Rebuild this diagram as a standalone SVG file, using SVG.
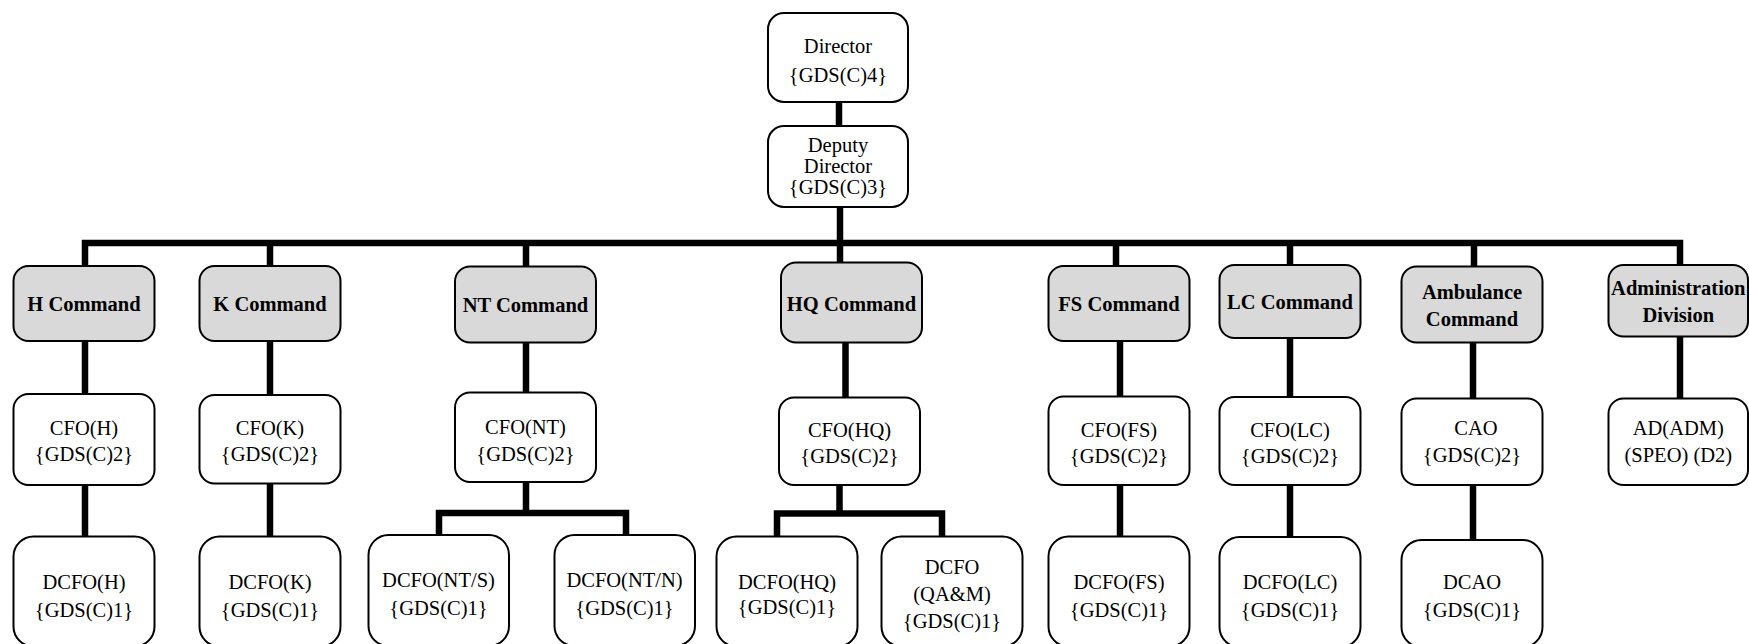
<svg xmlns="http://www.w3.org/2000/svg" width="1749" height="644" viewBox="0 0 1749 644">
<style>
.b{fill:#ffffff;stroke:#000;stroke-width:2}
.g{fill:#d9d9d9;stroke:#000;stroke-width:2}
.t{font-family:"Liberation Serif","Times New Roman",serif;font-size:20.5px;fill:#000;text-anchor:middle}
.tb{font-family:"Liberation Serif","Times New Roman",serif;font-size:20.5px;font-weight:bold;fill:#000;text-anchor:middle}
.c{fill:none;stroke:#000;stroke-width:6.5;stroke-linejoin:miter;stroke-linecap:butt}
</style>
<rect width="1749" height="644" fill="#fff"/>
<g id="connectors">
<path class="c" d="M839,101 V127"/>
<path class="c" d="M840,206 V263"/>
<path class="c" d="M85,267 V243 H1680 V266"/>
<path class="c" d="M270,243 V267"/>
<path class="c" d="M526,243 V267"/>
<path class="c" d="M1116,243 V267"/>
<path class="c" d="M1290,243 V266"/>
<path class="c" d="M1474,243 V267"/>
<path class="c" d="M85,341 V395"/>
<path class="c" d="M85,485 V537"/>
<path class="c" d="M270,341 V396"/>
<path class="c" d="M270,483 V537"/>
<path class="c" d="M526,342 V393"/>
<path class="c" d="M526,482 V513 M439,536 V513 H626 V536"/>
<path class="c" d="M845.5,342 V398"/>
<path class="c" d="M839.5,485 V513.5 M777,537 V513.5 H942 V537"/>
<path class="c" d="M1120,341 V397"/>
<path class="c" d="M1120,485 V537"/>
<path class="c" d="M1290,338 V397"/>
<path class="c" d="M1290,485 V537"/>
<path class="c" d="M1473,342 V399"/>
<path class="c" d="M1473,485 V540"/>
<path class="c" d="M1680,336 V399"/>
</g>
<g id="director"><rect class="b" x="768" y="13" width="140" height="89" rx="16"/><text class="t" x="838" y="53">Director</text><text class="t" x="838" y="82">{GDS(C)4}</text></g>
<g id="deputy"><rect class="b" x="768" y="126" width="140" height="81" rx="16"/><text class="t" x="838" y="152">Deputy</text><text class="t" x="838" y="173">Director</text><text class="t" x="838" y="194">{GDS(C)3}</text></g>

<g id="h-command"><rect class="g" x="13.5" y="266" width="141" height="75" rx="15"/><text class="tb" x="84" y="311">H Command</text></g>
<g id="k-command"><rect class="g" x="199.5" y="266" width="141" height="75" rx="15"/><text class="tb" x="270" y="311">K Command</text></g>
<g id="nt-command"><rect class="g" x="455" y="266.5" width="141" height="76" rx="15"/><text class="tb" x="525.5" y="311.5">NT Command</text></g>
<g id="hq-command"><rect class="g" x="781" y="262.5" width="141" height="80" rx="15"/><text class="tb" x="851.5" y="310.5">HQ Command</text></g>
<g id="fs-command"><rect class="g" x="1048.5" y="266" width="141" height="75" rx="15"/><text class="tb" x="1119" y="311">FS Command</text></g>
<g id="lc-command"><rect class="g" x="1219.5" y="265" width="141" height="73" rx="15"/><text class="tb" x="1290" y="309">LC Command</text></g>
<g id="ambulance-command"><rect class="g" x="1401.5" y="266.5" width="141" height="76" rx="15"/><text class="tb" x="1472" y="299">Ambulance</text><text class="tb" x="1472" y="325.5">Command</text></g>
<g id="administration-division"><rect class="g" x="1608.5" y="265" width="139.5" height="71.5" rx="15"/><text class="tb" x="1678.3" y="295">Administration</text><text class="tb" x="1678.3" y="321.5">Division</text></g>

<g id="cfo-h"><rect class="b" x="13.5" y="394" width="141" height="91" rx="15"/><text class="t" x="84" y="435">CFO(H)</text><text class="t" x="84" y="461">{GDS(C)2}</text></g>
<g id="cfo-k"><rect class="b" x="199.5" y="395" width="141" height="88.5" rx="15"/><text class="t" x="270" y="435">CFO(K)</text><text class="t" x="270" y="461">{GDS(C)2}</text></g>
<g id="cfo-nt"><rect class="b" x="455" y="392.5" width="141" height="89.5" rx="15"/><text class="t" x="525.5" y="433.5">CFO(NT)</text><text class="t" x="525.5" y="460.5">{GDS(C)2}</text></g>
<g id="cfo-hq"><rect class="b" x="779" y="397.5" width="141" height="87.5" rx="15"/><text class="t" x="849.5" y="436.5">CFO(HQ)</text><text class="t" x="849.5" y="463">{GDS(C)2}</text></g>
<g id="cfo-fs"><rect class="b" x="1048.5" y="396.5" width="141" height="88.5" rx="15"/><text class="t" x="1119" y="436.5">CFO(FS)</text><text class="t" x="1119" y="463">{GDS(C)2}</text></g>
<g id="cfo-lc"><rect class="b" x="1219.5" y="397" width="141" height="88" rx="15"/><text class="t" x="1290" y="436.5">CFO(LC)</text><text class="t" x="1290" y="463">{GDS(C)2}</text></g>
<g id="cao"><rect class="b" x="1401.5" y="398.5" width="141" height="86.5" rx="15"/><text class="t" x="1476" y="435">CAO</text><text class="t" x="1472" y="461.5">{GDS(C)2}</text></g>
<g id="ad-adm"><rect class="b" x="1608.5" y="398.5" width="139.5" height="86.5" rx="15"/><text class="t" x="1678.3" y="435">AD(ADM)</text><text class="t" x="1678.3" y="461.5">(SPEO) (D2)</text></g>

<g id="dcfo-h"><rect class="b" x="13.5" y="536.5" width="141" height="110" rx="20"/><text class="t" x="84" y="589">DCFO(H)</text><text class="t" x="84" y="616.5">{GDS(C)1}</text></g>
<g id="dcfo-k"><rect class="b" x="199.5" y="536.5" width="141" height="110" rx="20"/><text class="t" x="270" y="589">DCFO(K)</text><text class="t" x="270" y="616.5">{GDS(C)1}</text></g>
<g id="dcfo-nt-s"><rect class="b" x="368.5" y="535" width="140.5" height="111" rx="20"/><text class="t" x="438.5" y="587">DCFO(NT/S)</text><text class="t" x="438.5" y="615">{GDS(C)1}</text></g>
<g id="dcfo-nt-n"><rect class="b" x="554.5" y="535" width="140.5" height="111" rx="20"/><text class="t" x="624.5" y="587">DCFO(NT/N)</text><text class="t" x="624.5" y="615">{GDS(C)1}</text></g>
<g id="dcfo-hq"><rect class="b" x="716.5" y="536.5" width="141" height="110" rx="20"/><text class="t" x="787" y="588.5">DCFO(HQ)</text><text class="t" x="787" y="614">{GDS(C)1}</text></g>
<g id="dcfo-qam"><rect class="b" x="881.5" y="536.5" width="141" height="110" rx="20"/><text class="t" x="952" y="573.5">DCFO</text><text class="t" x="952" y="600.5">(QA&amp;M)</text><text class="t" x="952" y="628">{GDS(C)1}</text></g>
<g id="dcfo-fs"><rect class="b" x="1048.5" y="536.5" width="141" height="110" rx="20"/><text class="t" x="1119" y="588.5">DCFO(FS)</text><text class="t" x="1119" y="616.5">{GDS(C)1}</text></g>
<g id="dcfo-lc"><rect class="b" x="1219.5" y="537" width="141" height="110" rx="20"/><text class="t" x="1290" y="588.5">DCFO(LC)</text><text class="t" x="1290" y="616.5">{GDS(C)1}</text></g>
<g id="dcao"><rect class="b" x="1401.5" y="540" width="141" height="107" rx="20"/><text class="t" x="1472" y="588.5">DCAO</text><text class="t" x="1472" y="616.5">{GDS(C)1}</text></g>
</svg>
